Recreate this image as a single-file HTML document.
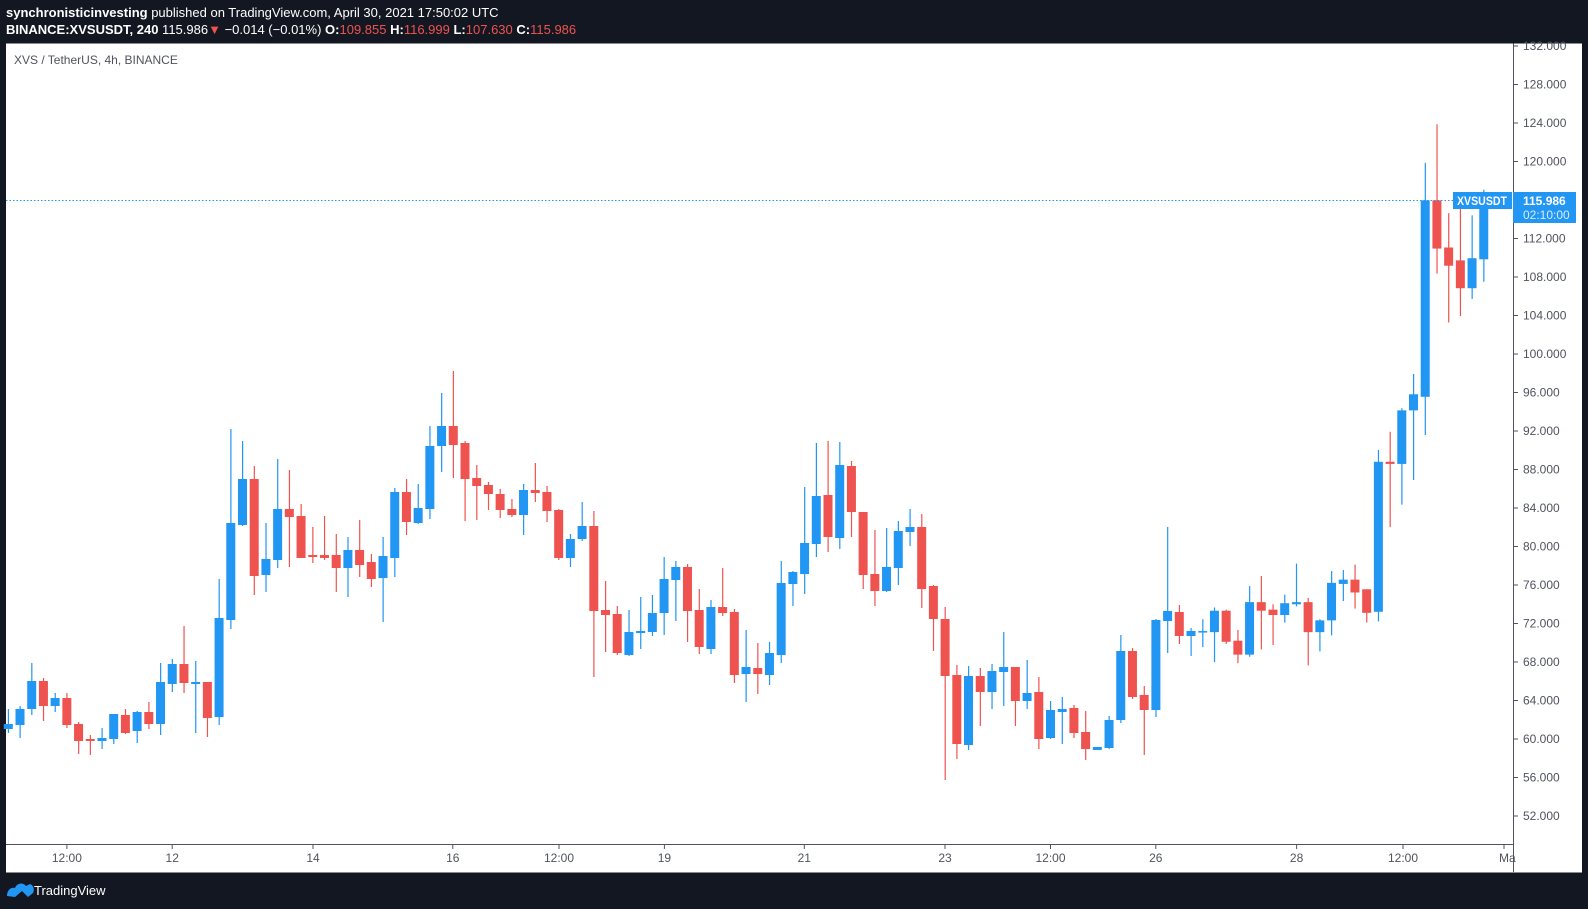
<!DOCTYPE html>
<html><head><meta charset="utf-8"><style>
html,body{margin:0;padding:0;background:#131722;width:1588px;height:909px;overflow:hidden}
svg{display:block}
text{font-family:"Liberation Sans",sans-serif}
</style></head><body>
<svg id="s" width="1588" height="909" viewBox="0 0 1588 909" xmlns="http://www.w3.org/2000/svg">
<rect x="0" y="0" width="1588" height="909" fill="#131722"/>
<text x="6" y="17" font-size="13" fill="#ffffff"><tspan font-weight="bold">synchronisticinvesting</tspan> published on TradingView.com, April 30, 2021 17:50:02 UTC</text>
<text x="6" y="34" font-size="13" fill="#ffffff"><tspan font-weight="bold">BINANCE:XVSUSDT, 240</tspan> 115.986<tspan fill="#ef5350">▼</tspan> −0.014 (−0.01%) <tspan font-weight="bold">O:</tspan><tspan fill="#ef5350">109.855</tspan> <tspan font-weight="bold">H:</tspan><tspan fill="#ef5350">116.999</tspan> <tspan font-weight="bold">L:</tspan><tspan fill="#ef5350">107.630</tspan> <tspan font-weight="bold">C:</tspan><tspan fill="#ef5350">115.986</tspan></text>
<rect x="6" y="43.5" width="1576" height="829" fill="#ffffff"/>
<g id="grid"></g>
<line x1="6" y1="844.5" x2="1513" y2="844.5" stroke="#50535e" stroke-width="1"/>
<line x1="1513.5" y1="43.5" x2="1513.5" y2="872" stroke="#50535e" stroke-width="1"/>
<text x="14" y="64" font-size="12" fill="#50535e">XVS / TetherUS, 4h, BINANCE</text>
<g id="c"></g>
<line x1="6" y1="200.5" x2="1453" y2="200.5" stroke="#2196f3" stroke-width="1" stroke-dasharray="1.5,2"/>
<rect x="1453" y="192" width="59" height="17" fill="#2196f3"/>
<text x="1457" y="205" font-size="12" font-weight="bold" fill="#ffffff" textLength="50" lengthAdjust="spacingAndGlyphs">XVSUSDT</text>
<rect x="1513" y="192" width="63" height="31" fill="#2196f3"/>
<text x="1523" y="205" font-size="12" font-weight="bold" fill="#ffffff">115.986</text>
<text x="1523" y="219" font-size="12" fill="#dbeafe">02:10:00</text>
<g fill="#ffffff" font-size="12">
<path d="M7 896 C7 890 11 887 15 888 C17 883 23 882 26 886 L30 884 C33 885 35 889 33 893 L28 897 L22 891 L15 897 Z" fill="#2196f3"/>
<text x="34" y="895" font-size="13">TradingView</text>
</g>
</svg>
<script>
var NS="http://www.w3.org/2000/svg";
function el(p,t,a){var e=document.createElementNS(NS,t);for(var k in a)e.setAttribute(k,a[k]);p.appendChild(e);return e;}
var g=document.getElementById('grid');
for(var p=132;p>=52;p-=4){var y=161-(p-120)*9.625;
 el(g,'line',{x1:1513,x2:1518,y1:y+0.5,y2:y+0.5,stroke:'#50535e'});
 if(!(y>186&&y<228)){var t=el(g,'text',{x:1523,y:y+4.5,'font-size':12,fill:'#50535e'});t.textContent=p.toFixed(3);}
}
var tl=[[66.9,'12:00'],[172.2,'12'],[313,'14'],[452.8,'16'],[559,'12:00'],[664.4,'19'],[804.3,'21'],[945,'23'],[1050.5,'12:00'],[1155.8,'26'],[1296.6,'28'],[1403,'12:00'],[1504,'Ma']];
tl.forEach(function(a){el(g,'line',{x1:a[0],x2:a[0],y1:845,y2:849,stroke:'#50535e'});var t=el(g,'text',{x:a[0],y:862,'font-size':12,fill:'#50535e','text-anchor':a[1]=='Ma'?'start':'middle'});if(a[1]=='Ma')t.setAttribute('x',1499);t.textContent=a[1];});
var segs=[
[410,3,[[942,957,897,969,'b'],[897,945,888,984,'b'],[813,897,759,915,'b'],[813,888,804,933,'r'],[864,888,849,906,'b'],[864,945,849,954,'r'],[942,993,936,1032,'r'],[987,993,975,1035,'r'],[984,993,954,1017,'b'],[912,987,912,1002,'b'],[915,969,897,972,'r'],[906,963,903,999,'b'],[906,942,876,957,'r'],[816,942,759,975,'b'],[762,822,747,846,'b'],[762,819,648,849,'r'],[816,822,753,969,'b'],[816,924,816,981,'r'],[624,921,507,945,'b'],[339,630,57,657,'b'],[207,345,93,348,'b'],[207,498,168,555,'r'],[447,495,339,546,'b'],[297,450,147,474,'b'],[297,321,180,471,'r'],[318,444,282,444,'r'],[435,441,351,459,'r'],[435,444,318,450,'r'],[435,474,372,546,'r'],[420,474,381,561,'b'],[420,465,330,501,'r'],[456,507,432,531,'r'],[438,504,381,636,'b'],[246,444,234,501,'b']]],
[360,3,[[396,486,357,525,'r'],[444,489,372,492,'b'],[258,447,198,477,'b'],[198,258,99,336,'b'],[198,255,33,354,'r'],[249,357,243,483,'r'],[354,378,315,480,'r'],[375,402,366,450,'r'],[402,450,387,474,'r'],[447,465,417,471,'r'],[390,465,372,525,'b'],[390,399,309,426,'r'],[396,453,378,486,'r'],[450,594,447,600,'r'],[537,594,522,621,'b'],[498,537,426,543,'b'],[498,753,453,951,'r'],[750,765,663,876,'r'],[762,879,738,885,'r'],[816,885,750,888,'b'],[813,819,711,867,'b'],[759,816,705,828,'b'],[657,759,591,825,'b'],[621,660,603,783,'b'],[621,753,612,846,'r'],[750,861,687,882,'r'],[741,867,720,882,'b'],[741,759,624,768,'r'],[756,945,747,969,'r'],[921,942,810,1026,'b'],[924,942,849,1002,'r'],[879,945,846,975,'b'],[669,885,603,909,'b'],[636,672,633,738,'b'],[549,642,381,702,'b']]],
[420,3,[[228,372,69,411,'b'],[225,351,63,396,'r'],[135,354,66,387,'b'],[138,276,123,351,'r'],[276,465,276,507,'r'],[462,513,330,558,'r'],[441,513,324,516,'b'],[333,444,303,495,'b'],[321,336,267,378,'b'],[321,507,282,564,'r'],[498,597,495,693,'r'],[597,768,561,1080,'r'],[765,972,735,1017,'r'],[768,975,738,990,'b'],[768,816,744,918,'r'],[753,816,732,867,'b'],[741,756,636,858,'b'],[741,843,741,918,'r'],[819,843,720,867,'b'],[816,957,771,987,'r'],[870,954,843,957,'b'],[867,876,831,972,'b'],[864,939,855,954,'r'],[936,987,873,1020,'r'],[981,990,981,990,'b'],[900,984,888,987,'b'],[693,900,645,909,'b'],[693,831,684,837,'r'],[825,870,798,1005,'r'],[600,870,597,891,'b'],[573,603,321,699,'b'],[576,648,555,672,'r'],[633,648,624,708,'b']]],
[120,2.8,[[1431,1434,1398,1476,'b'],[1374,1434,1365,1518,'b'],[1374,1461,1371,1467,'r'],[1458,1497,1428,1521,'r'],[1350,1497,1305,1503,'b'],[1350,1374,1277,1482,'r'],[1371,1386,1356,1470,'r'],[1353,1386,1329,1407,'b'],[1350,1356,1242,1362,'b'],[1350,1434,1338,1527,'r'],[1401,1434,1398,1488,'b'],[1296,1401,1263,1443,'b'],[1287,1299,1260,1347,'b'],[1287,1323,1245,1368,'r'],[1314,1380,1314,1407,'r'],[957,1377,924,1404,'b'],[957,963,873,1140,'r'],[813,963,807,1077,'b'],[768,813,711,1008,'b'],[225,775,120,882,'b'],[225,360,12,430,'r'],[357,408,261,567,'r'],[393,471,249,549,'r'],[387,471,267,501,'b'],[225,390,195,453,'b']]]
];
var c=document.getElementById('c'),i=0;
segs.forEach(function(s){var o=s[0],f=s[1];s[2].forEach(function(d){
 var x=8.3+i*11.71,col=d[4]=='b'?'#2196f3':'#ef5350';
 var bt=o+d[0]/f,bb=o+d[1]/f,wt=o+d[2]/f,wb=o+d[3]/f;
 el(c,'rect',{x:x-0.5,y:wt,width:1.2,height:Math.max(1,wb-wt),fill:col});
 el(c,'rect',{x:x-4.5,y:bt,width:9,height:Math.max(1.5,bb-bt),fill:col});
 i++;});});
</script>
</body></html>
